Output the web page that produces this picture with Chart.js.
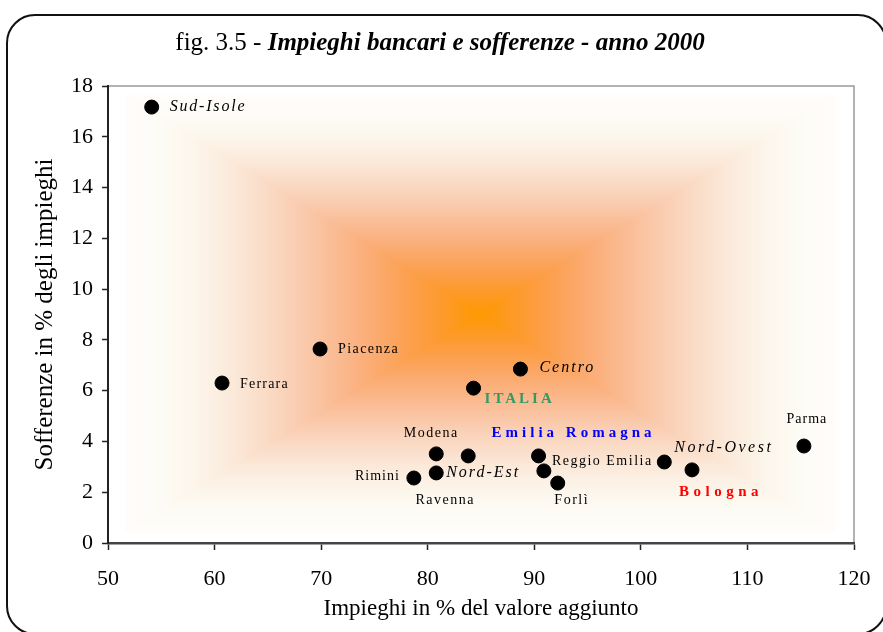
<!DOCTYPE html>
<html>
<head>
<meta charset="utf-8">
<script src="https://cdn.jsdelivr.net/npm/chart.js@4.4.0/dist/chart.umd.min.js"></script>
<style>
  html, body { margin: 0; padding: 0; background: #fff; }
  #wrap { width: 883px; height: 632px; position: relative; }
</style>
</head>
<body>
<div id="wrap"><canvas id="scatter-chart" width="883" height="632"></canvas></div>
<script>
// values
const places = ["Sud-Isole", "Ferrara", "Piacenza", "ITALIA", "Centro", "Modena", "Nord-Est",
  "Emilia Romagna", "Ravenna", "Rimini", "Reggio Emilia", "Forlì", "Nord-Ovest", "Bologna", "Parma"];
const impieghi = [54.1, 60.7, 69.9, 84.3, 88.7, 80.8, 83.8, 90.4, 80.8, 78.7, 90.9, 92.2, 102.2, 104.8, 115.3];
const sofferenze = [17.17, 6.3, 7.64, 6.1, 6.85, 3.51, 3.43, 3.43, 2.76, 2.56, 2.84, 2.36, 3.19, 2.88, 3.82];
const xTicks = [50, 60, 70, 80, 90, 100, 110, 120];
const yTicks = [0, 2, 4, 6, 8, 10, 12, 14, 16, 18];

const SERIF = "'Liberation Serif', 'Times New Roman', serif";

// how each point label is drawn (offset from the point, font, colour)
const labelLook = {
  "Sud-Isole":      { dx: 18, dy: 0,   align: "left",   font: "italic 16px", color: "#000", sp: 1.8 },
  "Ferrara":        { dx: 18, dy: 1,   align: "left",   font: "14px",        color: "#000", sp: 1.2 },
  "Piacenza":       { dx: 18, dy: 0,   align: "left",   font: "14px",        color: "#000", sp: 1.4 },
  "ITALIA":         { dx: 11, dy: 11,  align: "left",   font: "bold 15px",   color: "#339966", sp: 3 },
  "Centro":         { dx: 19, dy: -1,  align: "left",   font: "italic 16px", color: "#000", sp: 2 },
  "Modena":         { dx: -5, dy: -21, align: "center", font: "14px",        color: "#000", sp: 1.5 },
  "Nord-Est":       { dx: 15, dy: 17,  align: "center", font: "italic 16px", color: "#000", sp: 2 },
  "Emilia Romagna": { dx: 35, dy: -23, align: "center", font: "bold 15px",   color: "#0000ff", sp: 4 },
  "Ravenna":        { dx: 9,  dy: 27,  align: "center", font: "14px",        color: "#000", sp: 1.5 },
  "Rimini":         { dx: -14, dy: -2, align: "right",  font: "14px",        color: "#000", sp: 1 },
  "Reggio Emilia":  { dx: 8,  dy: -10, align: "left",   font: "14px",        color: "#000", sp: 1.5 },
  "Forlì":          { dx: 14, dy: 17,  align: "center", font: "14px",        color: "#000", sp: 1.5 },
  "Nord-Ovest":     { dx: 10, dy: -14, align: "left",   font: "italic 16px", color: "#000", sp: 2.5 },
  "Bologna":        { dx: 29, dy: 22,  align: "center", font: "bold 15px",   color: "#ff0000", sp: 4.5 },
  "Parma":          { dx: 3,  dy: -27, align: "center", font: "14px",        color: "#000", sp: 1 },
};

let gradientCanvas = null;

function smooth(x) {
  x = Math.min(1, Math.max(0, x));
  return x * x * (3 - 2 * x);
}

function buildGradient(w, h) {
  // rectangular "from centre" fill: orange in the middle, almost white at the edges
  const c = document.createElement("canvas");
  c.width = w;
  c.height = h;
  const g = c.getContext("2d");
  const img = g.createImageData(w, h);
  const hw = w / 2, hh = h / 2;
  const inner = [255, 153, 0];
  const outer = [255, 252, 250];
  for (let y = 0; y < h; y++) {
    for (let x = 0; x < w; x++) {
      const t = Math.min(1, Math.max(Math.abs(x + 0.5 - hw) / hw, Math.abs(y + 0.5 - hh) / hh));
      const kg = smooth((t - 0.05) / 0.9);
      const kb = 1 - Math.pow(1 - t, 1.7);
      const i = (y * w + x) * 4;
      img.data[i] = 255 - 5 * Math.sin(Math.PI * t);
      img.data[i + 1] = inner[1] + (outer[1] - inner[1]) * kg;
      img.data[i + 2] = inner[2] + (outer[2] - inner[2]) * kb;
      img.data[i + 3] = 255;
    }
  }
  g.putImageData(img, 0, 0);
  return c;
}

const backgroundPlugin = {
  id: "background",
  beforeDraw(chart) {
    const ctx = chart.ctx;
    const a = chart.chartArea;
    ctx.save();
    ctx.fillStyle = "#fff";
    ctx.fillRect(0, 0, chart.width, chart.height);

    // rounded outer frame
    ctx.beginPath();
    ctx.roundRect(7, 15, 879, 619, 28);
    ctx.lineWidth = 2;
    ctx.strokeStyle = "#111";
    ctx.stroke();

    // plot area fill
    const gx = Math.round(a.left + 17), gy = Math.round(a.top + 9);
    const gw = Math.round(a.width - 36), gh = Math.round(a.height - 19);
    if (!gradientCanvas) gradientCanvas = buildGradient(gw, gh);
    ctx.drawImage(gradientCanvas, gx, gy);

    // grey border top and right
    ctx.beginPath();
    ctx.moveTo(a.left, a.top);
    ctx.lineTo(a.right, a.top);
    ctx.lineTo(a.right, a.bottom);
    ctx.lineWidth = 1.5;
    ctx.strokeStyle = "#999";
    ctx.stroke();

    // title, mixed styles
    const part1 = "fig. 3.5 - ";
    const part2 = "Impieghi bancari e sofferenze - anno 2000";
    ctx.textBaseline = "alphabetic";
    ctx.textAlign = "left";
    ctx.fillStyle = "#000";
    ctx.font = "25px " + SERIF;
    const w1 = ctx.measureText(part1).width;
    ctx.font = "italic bold 25px " + SERIF;
    const w2 = ctx.measureText(part2).width;
    const startX = 440 - (w1 + w2) / 2;
    ctx.font = "25px " + SERIF;
    ctx.fillText(part1, startX, 50);
    ctx.font = "italic bold 25px " + SERIF;
    ctx.fillText(part2, startX + w1, 50);
    ctx.restore();
  },
};

const pointLabelPlugin = {
  id: "pointLabels",
  afterDatasetsDraw(chart) {
    const ctx = chart.ctx;
    const meta = chart.getDatasetMeta(0);
    ctx.save();
    ctx.textBaseline = "middle";
    meta.data.forEach((pt, i) => {
      const look = labelLook[places[i]];
      ctx.font = look.font + " " + SERIF;
      ctx.fillStyle = look.color;
      ctx.textAlign = look.align;
      ctx.letterSpacing = look.sp + "px";
      ctx.fillText(places[i], pt.x + look.dx, pt.y + look.dy);
    });
    ctx.restore();
  },
};

const ctx = document.getElementById("scatter-chart");

const config = {
  type: "scatter",
  data: {
    datasets: [
      {
        label: "Impieghi e sofferenze",
        data: impieghi.map((v, i) => ({ x: v, y: sofferenze[i] })),
        backgroundColor: "#000",
        borderColor: "#000",
        pointRadius: 7,
        pointHoverRadius: 7,
      },
    ],
  },
  options: {
    responsive: false,
    animation: false,
    events: [],
    layout: { padding: { top: 86, right: 29, bottom: 0, left: 0 } },
    plugins: {
      legend: { display: false },
      tooltip: { enabled: false },
    },
    scales: {
      x: {
        type: "linear",
        min: xTicks[0],
        max: xTicks[xTicks.length - 1],
        afterBuildTicks: (scale) => { scale.ticks = xTicks.map((v) => ({ value: v })); },
        afterFit: (scale) => {
          scale.height = 89;
          // keep the plot edge where the padding puts it
          scale.paddingLeft = 0;
          scale.paddingRight = 0;
        },
        ticks: { color: "#000", padding: 16, font: { family: SERIF, size: 22 } },
        grid: { drawOnChartArea: false, tickLength: 7, tickColor: "#222", tickWidth: 1.5 },
        border: { color: "#444", width: 2.5 },
        title: {
          display: true,
          text: "Impieghi in % del valore aggiunto",
          color: "#000",
          font: { family: SERIF, size: 23 },
          padding: { top: 0, bottom: 9 },
        },
      },
      y: {
        type: "linear",
        min: yTicks[0],
        max: yTicks[yTicks.length - 1],
        afterBuildTicks: (scale) => { scale.ticks = yTicks.map((v) => ({ value: v })); },
        afterFit: (scale) => { scale.width = 108; },
        ticks: { color: "#000", padding: 9, font: { family: SERIF, size: 22 } },
        grid: { drawOnChartArea: false, tickLength: 6, tickColor: "#222", tickWidth: 1.5 },
        border: { color: "#222", width: 2 },
        title: {
          display: true,
          text: "Sofferenze in % degli impieghi",
          color: "#000",
          font: { family: SERIF, size: 25 },
          padding: { top: 30, bottom: 0 },
        },
      },
    },
  },
  plugins: [backgroundPlugin, pointLabelPlugin],
};

const scatterChart = new Chart(ctx, config);
</script>
</body>
</html>
